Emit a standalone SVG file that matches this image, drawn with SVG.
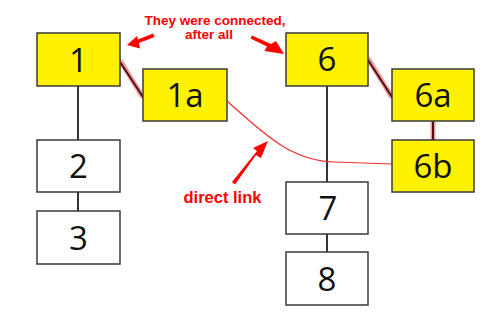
<svg xmlns="http://www.w3.org/2000/svg" width="500" height="322" viewBox="0 0 500 322">
<style>
.box{stroke:#3a3a3a;stroke-width:1.5}
.y{fill:#fff200}
.w{fill:#ffffff}
.lbl{font-family:"Open Sans","Liberation Sans",sans-serif;font-size:33px;fill:#111;text-anchor:middle}
.tree{stroke:#333;stroke-width:2;fill:none}
.glow{stroke:#f08080;stroke-opacity:0.8;stroke-width:5;stroke-linecap:round;fill:none}
.dark{stroke:#4a1515;stroke-width:2;fill:none}
.note{font-family:"Liberation Sans",Arial,sans-serif;font-weight:bold;font-size:13.5px;fill:#ff0000;text-anchor:middle;stroke:#ffffff;stroke-width:3;stroke-linejoin:round;paint-order:stroke}
.arr{fill:#ff0000;stroke:#ffffff;stroke-width:1;stroke-linejoin:round;paint-order:stroke}
</style>
<rect width="500" height="322" fill="#ffffff"/>
<g id="connectors">
  <line class="tree" x1="78" y1="86" x2="78" y2="140"/>
  <line class="tree" x1="78" y1="192" x2="78" y2="211"/>
  <line class="tree" x1="327" y1="86" x2="327" y2="182"/>
  <line class="tree" x1="327" y1="234" x2="327" y2="252"/>
  <line class="glow" x1="121" y1="62" x2="142" y2="96"/>
  <line class="dark" x1="120" y1="62" x2="143" y2="97"/>
  <line class="glow" x1="369" y1="60" x2="391" y2="96"/>
  <line class="dark" x1="368" y1="60" x2="392" y2="97"/>
  <line class="glow" x1="433" y1="122" x2="433" y2="139"/>
  <line class="dark" x1="433" y1="121" x2="433" y2="140"/>
  <path d="M227,101 C262,132 290,161 335,162 L392,164" fill="none" stroke="#f03030" stroke-width="1.2"/>
</g>
<g id="n1"><rect class="box y" x="37" y="33" width="83" height="53"/><text class="lbl" x="78.5" y="72">1</text></g>
<g id="n1a"><rect class="box y" x="143" y="69" width="84" height="52"/><text class="lbl" x="185" y="107">1a</text></g>
<g id="n2"><rect class="box w" x="37" y="140" width="83" height="52"/><text class="lbl" x="78.5" y="178">2</text></g>
<g id="n3"><rect class="box w" x="37" y="211" width="83" height="53"/><text class="lbl" x="78.5" y="250">3</text></g>
<g id="n6"><rect class="box y" x="286" y="33" width="82" height="53"/><text class="lbl" x="327" y="71">6</text></g>
<g id="n6a"><rect class="box y" x="392" y="69" width="82" height="52"/><text class="lbl" x="433" y="107">6a</text></g>
<g id="n6b"><rect class="box y" x="392" y="140" width="82" height="52"/><text class="lbl" x="433" y="178">6b</text></g>
<g id="n7"><rect class="box w" x="286" y="182" width="82" height="52"/><text class="lbl" x="328" y="220">7</text></g>
<g id="n8"><rect class="box w" x="286" y="252" width="82" height="53"/><text class="lbl" x="327" y="291">8</text></g>
<g id="annotations">
  <text class="note" x="215" y="24.5">They were connected,</text>
  <text class="note" x="209" y="39">after all</text>
  <polygon class="arr" points="153,33.5 154.5,37 139,43 140,48.5 127,45 137,36 138,39.5"/>
  <polygon class="arr" points="252,35.5 250.5,38.5 267,46.5 264.5,51 284,54 276,41 271,44"/>
  <polygon class="arr" points="232,182 235,184.5 256,155 261,158 268,141 253,148 257,151"/>
  <text class="note" x="222.5" y="203" style="font-size:16.5px">direct link</text>
</g>
</svg>
